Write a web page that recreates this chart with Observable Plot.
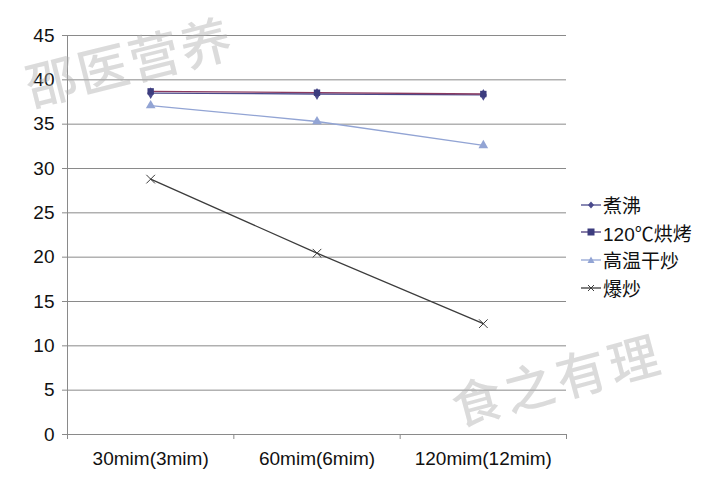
<!DOCTYPE html>
<html>
<head>
<meta charset="utf-8">
<script src="https://cdn.jsdelivr.net/npm/d3@7"></script>
<script src="https://cdn.jsdelivr.net/npm/@observablehq/plot@0.6"></script>
<style>
  html, body { margin: 0; padding: 0; background: #fff; }
  #wrap { position: relative; width: 728px; height: 493px; font-family: "Liberation Sans", Arial, sans-serif; }
  #legend { position: absolute; left: 580px; top: 191px; font-size: 19px; color: #111; font-family: "Liberation Sans", "Noto Sans CJK SC", sans-serif; }
  .row { display: flex; align-items: center; height: 27.6px; }
  .row svg { margin-right: 1px; }
  .wm { position: absolute; color: rgba(175,175,175,0.45); font-family: "Noto Sans CJK SC", sans-serif; font-weight: 500; white-space: nowrap; line-height: 1; }
</style>
</head>
<body>
<div id="wrap"></div>
<script>
const categories = ["30mim(3mim)", "60mim(6mim)", "120mim(12mim)"];
const seriesNames = ["煮沸", "120℃烘烤", "高温干炒", "爆炒"];
const boiling = [38.5, 38.4, 38.3];
const baking = [38.7, 38.55, 38.4];
const dryFry = [37.1, 35.3, 32.6];
const stirFry = [28.8, 20.45, 12.5];
const yTicks = [0, 5, 10, 15, 20, 25, 30, 35, 40, 45];
const lineColors = ["#4a4a8c", "#8a3a60", "#92a4d4", "#3c3c3c"];
const markColors = ["#4a4a8c", "#3c3c7e", "#92a4d4", "#3c3c3c"];
const symbols = ["diamond", "square", "triangle", "times"];
const watermarks = ["邵医营养", "食之有理"];

const seriesValues = [boiling, baking, dryFry, stirFry];
const data = [];
seriesValues.forEach((vals, s) => vals.forEach((v, i) => data.push({series: seriesNames[s], xi: i + 0.5, value: v, cat: categories[i]})));
const filled = data.filter(d => d.series !== "爆炒");
const crosses = data.filter(d => d.series === "爆炒");

const chart = Plot.plot({
  width: 728,
  height: 493,
  marginLeft: 67,
  marginRight: 162,
  marginTop: 35,
  marginBottom: 59,
  style: {fontFamily: "'Liberation Sans', Arial, sans-serif", fontSize: "19px", color: "#111", background: "transparent"},
  x: {domain: [0, 3]},
  y: {domain: [0, 45]},
  color: {domain: seriesNames, range: lineColors},
  symbol: {domain: seriesNames, range: symbols},
  marks: [
    Plot.ruleY(yTicks, {stroke: "#8a8a8a", strokeWidth: 1}),
    Plot.ruleX([0], {stroke: "#8a8a8a", strokeWidth: 1}),
    Plot.axisY({ticks: yTicks, tickSize: 5, tickPadding: 8, stroke: "#8a8a8a", label: null, fontSize: 19, fill: "#111"}),
    Plot.axisX({ticks: [0, 1, 2, 3], tickSize: 5, tickFormat: () => "", stroke: "#8a8a8a", label: null}),
    Plot.axisX({ticks: [0.5, 1.5, 2.5], tickSize: 0, tickPadding: 17, tickFormat: d => categories[Math.round(d - 0.5)], label: null, fontSize: 19, fill: "#111"}),
    Plot.line(data, {x: "xi", y: "value", z: "series", stroke: "series", strokeWidth: 1.3}),
    Plot.dot(filled, {x: "xi", y: "value", symbol: "series", fill: d => markColors[seriesNames.indexOf(d.series)], stroke: "none", r: 3.6}),
    Plot.dot(crosses, {x: "xi", y: "value", symbol: "series", stroke: markColors[3], fill: "none", r: 4, strokeWidth: 1})
  ]
});
const wrap = document.getElementById("wrap");
wrap.appendChild(chart);

// legend
const legend = document.createElement("div");
legend.id = "legend";
const symPaths = {
  diamond: (c) => `<path d="M11,2.5 L14,6 L11,9.5 L8,6 Z" fill="${c}"/>`,
  square: (c) => `<rect x="7.5" y="2.5" width="7" height="7" fill="${c}"/>`,
  triangle: (c) => `<path d="M11,2.5 L14.5,9 L7.5,9 Z" fill="${c}"/>`,
  times: (c) => `<path d="M8,3 L14,9 M14,3 L8,9" stroke="${c}" stroke-width="1"/>`
};
seriesNames.forEach((name, i) => {
  const row = document.createElement("div");
  row.className = "row";
  row.innerHTML = `<svg width="22" height="12"><line x1="1" x2="21" y1="6" y2="6" stroke="${lineColors[i] === "#8a3a60" ? "#4a3a7a" : lineColors[i]}" stroke-width="1.3"/>${symPaths[symbols[i]](markColors[i])}</svg><span>${name}</span>`;
  legend.appendChild(row);
});
wrap.appendChild(legend);

// watermarks
const wm1 = document.createElement("div");
wm1.className = "wm";
wm1.textContent = watermarks[0];
wm1.style.cssText += "left:26px;top:60px;font-size:51px;letter-spacing:2px;transform:rotate(-14deg);transform-origin:0 50%;";
wrap.appendChild(wm1);
const wm2 = document.createElement("div");
wm2.className = "wm";
wm2.textContent = watermarks[1];
wm2.style.cssText += "left:452px;top:380px;font-size:50px;letter-spacing:4px;transform:rotate(-15deg);transform-origin:0 50%;";
wrap.appendChild(wm2);
</script>
</body>
</html>
